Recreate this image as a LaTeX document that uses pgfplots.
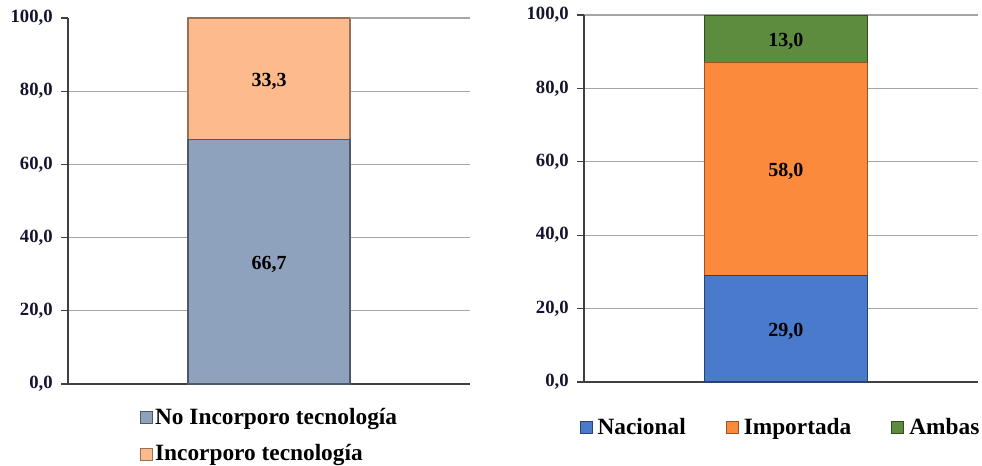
\documentclass[border=0pt]{standalone}
\usepackage{pgfplots}
\pgfplotsset{compat=1.18}
\usepackage{fontspec}
\setmainfont{Liberation Serif}
\definecolor{cNo}{HTML}{8EA2BD}
\definecolor{cSi}{HTML}{FDBB8D}
\definecolor{cNac}{HTML}{4A7ACC}
\definecolor{cImp}{HTML}{FB8A3C}
\definecolor{cAmb}{HTML}{5E8C3E}
\definecolor{gridc}{HTML}{A6A6A6}
\definecolor{tickc}{HTML}{14142E}
\tikzset{lbl/.style={font=\bfseries\fontsize{15}{15}\selectfont, text=black, yshift=-2pt}}
\pgfplotsset{
  mystyle/.style={
    scale only axis, ymin=0, ymax=100, xmin=-1, xmax=1,
    axis x line*=bottom, axis y line*=left,
    xtick=\empty,
    ymajorgrids, grid style={gridc, line width=0.8pt},
    axis line style={black!75, line width=0.9pt},
    tick style={black!75, line width=0.8pt},
    major tick length=5pt, tick align=outside,
    yticklabel style={font=\bfseries\fontsize{14}{14}\selectfont, text=tickc, xshift=-3pt},
    yticklabel={\pgfmathprintnumber[fixed,fixed zerofill,precision=1,use comma,assume math mode=true]{\tick}},
    ybar stacked,
    legend cell align=left,
    legend image code/.code={\draw[##1, line width=0.5pt] (0pt,-4.5pt) rectangle (9pt,4.5pt);},
    legend style={draw=none, fill=none, font=\bfseries\fontsize{17.5}{20}\selectfont},
  },
}
\begin{document}
\begin{tikzpicture}
\useasboundingbox (0,0) rectangle (736.5pt,348.75pt);
\begin{axis}[mystyle,
  at={(51pt,60.75pt)}, anchor=south west,
  width=301.5pt, height=274.5pt,
  bar width=0.806,
  ytick={0,20,...,80}, extra y ticks={100}, extra y tick style={grid=none},
  legend style={at={(0.168,-0.05)}, anchor=north west, row sep=10pt},
]
\draw[gridc, line width=0.8pt] (axis cs:0.403,100) -- (axis cs:1,100);
\addplot[fill=cNo, draw=cNo!55!black, line width=0.8pt] coordinates {(0,66.7)};
\addplot[fill=cSi, draw=cSi!60!black, line width=0.8pt] coordinates {(0,33.3)};
\legend{No Incorporo tecnología, Incorporo tecnología}
\coordinate (L1) at (axis cs:0,33.35);
\coordinate (L2) at (axis cs:0,83.35);
\end{axis}
\node[lbl] at (L1) {66,7};
\node[lbl] at (L2) {33,3};
\begin{axis}[mystyle,
  at={(438pt,62.25pt)}, anchor=south west,
  width=295.5pt, height=275.25pt,
  bar width=0.827,
  ytick={0,20,...,100},
  legend columns=3,
  legend style={at={(-0.022,-0.123)}, anchor=west, /tikz/every even column/.append style={column sep=28pt}},
]
\addplot[fill=cNac, draw=cNac!55!black, line width=0.8pt] coordinates {(0.025,29)};
\addplot[fill=cImp, draw=cImp!60!black, line width=0.8pt] coordinates {(0.025,58)};
\addplot[fill=cAmb, draw=cAmb!55!black, line width=0.8pt] coordinates {(0.025,13)};
\legend{\hspace{2pt}Nacional, \hspace{2pt}Importada, \hspace{2pt}Ambas}
\coordinate (R1) at (axis cs:0.025,14.5);
\coordinate (R2) at (axis cs:0.025,58);
\coordinate (R3) at (axis cs:0.025,93.5);
\end{axis}
\node[lbl] at (R1) {29,0};
\node[lbl] at (R2) {58,0};
\node[lbl] at (R3) {13,0};
\end{tikzpicture}
\end{document}
